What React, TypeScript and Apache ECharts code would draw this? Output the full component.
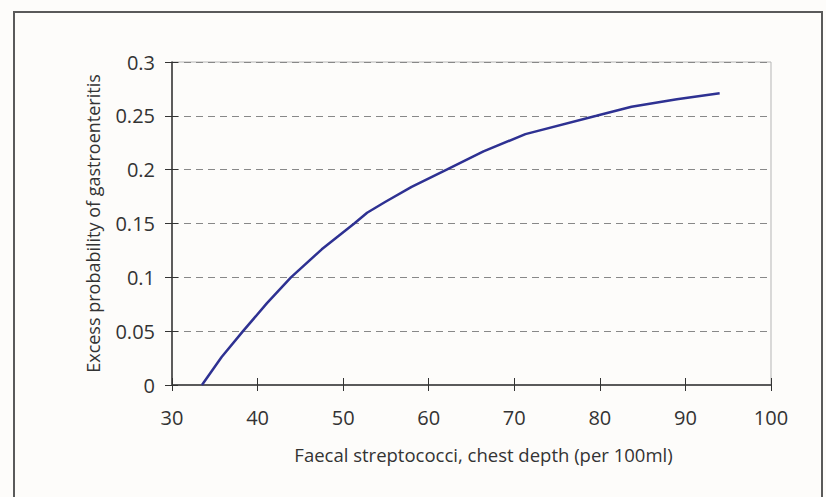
import React, { useEffect, useRef } from "react";
import * as echarts from "echarts";

const xValues = [33.5, 35.8, 38.3, 41.1, 43.9, 47.5, 51.3, 52.8, 54.9, 58.0, 62.1, 66.4, 71.3, 79.6, 83.7, 89.0, 94.0];
const yValues = [0, 0.026, 0.05, 0.076, 0.1, 0.126, 0.15, 0.16, 0.17, 0.184, 0.2, 0.217, 0.233, 0.25, 0.2585, 0.2655, 0.271];
const xTitle = "Faecal streptococci, chest depth (per 100ml)";
const yTitle = "Excess probability of gastroenteritis";

const FONT = "'Open Sans', 'Noto Sans', sans-serif";

export default function App() {
  const ref = useRef<HTMLDivElement>(null);
  useEffect(() => {
    if (!ref.current) return;
    const chart = echarts.init(ref.current, null, { renderer: "svg" });
    const data = xValues.map((x, i) => [x, yValues[i]]);
    chart.setOption({
      animation: false,
      backgroundColor: "#fdfcfa",
      textStyle: { fontFamily: FONT },
      graphic: [
        {
          type: "rect",
          shape: { x: 14, y: 12, width: 808, height: 520 },
          style: { fill: "none", stroke: "#5a5a5a", lineWidth: 2 },
          silent: true,
        },
      ],
      grid: {
        left: 172,
        top: 62,
        right: 55,
        bottom: 112,
        show: true,
        borderColor: "#b5b5b5",
        borderWidth: 1,
        backgroundColor: "transparent",
        containLabel: false,
        outerBoundsMode: "none",
      },
      xAxis: [
        {
          type: "value",
          min: 30,
          max: 100,
          interval: 10,
          name: xTitle,
          nameLocation: "middle",
          nameGap: 60,
          nameTextStyle: { fontSize: 18.5, color: "#333", fontFamily: FONT, padding: [0, 0, 0, 24] },
          axisLine: { show: true, lineStyle: { color: "#5a5a5a", width: 2 } },
          axisTick: { show: true, inside: false, length: 6, lineStyle: { color: "#333", width: 1 } },
          axisLabel: { fontSize: 20, color: "#333", margin: 22, fontFamily: FONT },
          splitLine: { show: false },
        },
        {
          type: "value",
          min: 30,
          max: 100,
          interval: 10,
          position: "bottom",
          axisLine: { show: false },
          axisTick: { show: true, inside: true, length: 7, lineStyle: { color: "#333", width: 1 } },
          axisLabel: { show: false },
          splitLine: { show: false },
        },
      ],
      yAxis: [
        {
          type: "value",
          min: 0,
          max: 0.3,
          interval: 0.05,
          name: yTitle,
          nameLocation: "middle",
          nameGap: 70,
          nameTextStyle: { fontSize: 18, color: "#333", fontFamily: FONT },
          axisLine: { show: true, lineStyle: { color: "#333", width: 1.5 } },
          axisTick: { show: true, inside: false, length: 7, lineStyle: { color: "#333", width: 1 } },
          axisLabel: { fontSize: 20, color: "#333", margin: 17, fontFamily: FONT },
          splitLine: { show: true, lineStyle: { color: "#888", type: [7, 5], width: 1 } },
        },
        {
          type: "value",
          min: 0,
          max: 0.3,
          interval: 0.05,
          position: "left",
          axisLine: { show: false },
          axisTick: { show: true, inside: true, length: 6, lineStyle: { color: "#333", width: 1 } },
          axisLabel: { show: false },
          splitLine: { show: false },
        },
      ],
      series: [
        {
          type: "line",
          data,
          xAxisIndex: 0,
          yAxisIndex: 0,
          showSymbol: false,
          symbol: "none",
          lineStyle: { color: "#2e3192", width: 2.5 },
          smooth: false,
        },
      ],
    });
    return () => chart.dispose();
  }, []);
  return (
    <div
      ref={ref}
      style={{ position: "fixed", left: 0, top: 0, width: 826, height: 497 }}
    />
  );
}
